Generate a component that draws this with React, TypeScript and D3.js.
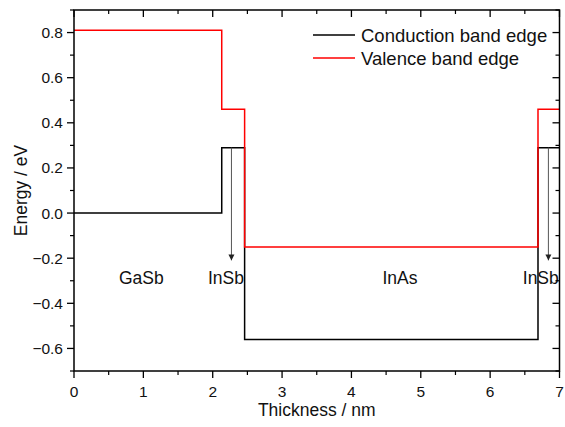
import React from "react";
import * as d3 from "d3";

// Band edge profiles across the GaSb / InSb / InAs / InSb stack
const layerBoundaries = [0, 2.13, 2.46, 6.69, 7];
const conductionEdge = [0, 0.29, -0.56, 0.29];
const valenceEdge = [0.81, 0.46, -0.15, 0.46];

const xTicks = [0, 1, 2, 3, 4, 5, 6, 7];
const yTicks = [-0.6, -0.4, -0.2, 0.0, 0.2, 0.4, 0.6, 0.8];
const xMinorTicks = [0.5, 1.5, 2.5, 3.5, 4.5, 5.5, 6.5];
const yMinorTicks = [-0.7, -0.5, -0.3, -0.1, 0.1, 0.3, 0.5, 0.7, 0.9];

const layerLabels = ["GaSb", "InSb", "InAs", "InSb"];
const layerLabelX = [0.97, 2.19, 4.7, 6.73];
const layerLabelY = -0.315;

// Arrows marking the InSb layers
const arrowX = [2.27, 6.84];
const arrowFrom = 0.29;
const arrowTo = -0.21;

const legendNames = ["Conduction band edge", "Valence band edge"];
const legendColors = ["#000000", "#ff0000"];

const W = 565;
const H = 427;
const left = 74;
const right = 559.5;
const top = 10;
const bottom = 371;
const FONT = "Liberation Sans, Arial, sans-serif";

export default function App() {
  const x = d3.scaleLinear().domain([0, 7]).range([left, right]);
  const y = d3.scaleLinear().domain([-0.7, 0.9]).range([bottom, top]);

  const stepPoints = (vals: number[]) => {
    const pts: [number, number][] = [];
    vals.forEach((v, i) => {
      pts.push([layerBoundaries[i], v]);
      pts.push([layerBoundaries[i + 1], v]);
    });
    return pts;
  };

  const line = d3
    .line<[number, number]>()
    .x((d) => x(d[0]))
    .y((d) => y(d[1]));

  const fmt = d3.format(".1f");
  const major = 7;
  const minor = 4;

  return (
    <svg
      width={W}
      height={H}
      style={{ position: "absolute", left: 0, top: 0, background: "#fff" }}
      fontFamily={FONT}
    >
      <defs>
        <marker
          id="arrowHead"
          viewBox="0 0 10 10"
          refX="10"
          refY="5"
          markerWidth="6"
          markerHeight="8"
          markerUnits="userSpaceOnUse"
          orient="auto"
        >
          <path d="M0,0 L10,5 L0,10 Z" fill="#222" />
        </marker>
      </defs>

      {/* band edges */}
      <path d={line(stepPoints(conductionEdge)) || ""} fill="none" stroke="#000" strokeWidth={1.5} />
      <path d={line(stepPoints(valenceEdge)) || ""} fill="none" stroke="#ff0000" strokeWidth={1.5} />

      {/* arrows */}
      {arrowX.map((ax, i) => (
        <line
          key={i}
          x1={x(ax)}
          x2={x(ax)}
          y1={y(arrowFrom)}
          y2={y(arrowTo)}
          stroke="#555"
          strokeWidth={1}
          markerEnd="url(#arrowHead)"
        />
      ))}

      {/* layer labels */}
      {layerLabels.map((t, i) => (
        <text
          key={i}
          x={x(layerLabelX[i])}
          y={y(layerLabelY)}
          textAnchor="middle"
          fontSize={17.5}
          fill="#111"
        >
          {t}
        </text>
      ))}

      {/* frame */}
      <rect x={left} y={top} width={right - left} height={bottom - top} fill="none" stroke="#000" strokeWidth={1.5} />

      {/* bottom axis: outward ticks; top axis: inward ticks */}
      {xTicks.map((t) => (
        <g key={"xb" + t}>
          <line x1={x(t)} x2={x(t)} y1={bottom} y2={bottom + major} stroke="#000" strokeWidth={1.3} />
          <text x={x(t)} y={bottom + 26} textAnchor="middle" fontSize={15.5} fill="#111">
            {t}
          </text>
          <line x1={x(t)} x2={x(t)} y1={top} y2={top + major} stroke="#000" strokeWidth={1.3} />
        </g>
      ))}
      {xMinorTicks.map((t) => (
        <g key={"xm" + t}>
          <line x1={x(t)} x2={x(t)} y1={bottom} y2={bottom + minor} stroke="#000" strokeWidth={1.2} />
          <line x1={x(t)} x2={x(t)} y1={top} y2={top + minor} stroke="#000" strokeWidth={1.2} />
        </g>
      ))}

      {/* left axis: outward ticks; right axis: inward ticks */}
      {yTicks.map((t) => (
        <g key={"yl" + t}>
          <line x1={left - major} x2={left} y1={y(t)} y2={y(t)} stroke="#000" strokeWidth={1.3} />
          <text x={left - 11} y={y(t) + 5.5} textAnchor="end" fontSize={15.5} fill="#111">
            {fmt(t)}
          </text>
          <line x1={right - major} x2={right} y1={y(t)} y2={y(t)} stroke="#000" strokeWidth={1.3} />
        </g>
      ))}
      {yMinorTicks.map((t) => (
        <g key={"ym" + t}>
          <line x1={left - minor} x2={left} y1={y(t)} y2={y(t)} stroke="#000" strokeWidth={1.2} />
          <line x1={right - minor} x2={right} y1={y(t)} y2={y(t)} stroke="#000" strokeWidth={1.2} />
        </g>
      ))}

      {/* axis titles */}
      <text x={(left + right) / 2} y={416} textAnchor="middle" fontSize={17.5} fill="#111">
        Thickness / nm
      </text>
      <text
        transform={`translate(27, ${(top + bottom) / 2}) rotate(-90)`}
        textAnchor="middle"
        fontSize={17.5}
        fill="#111"
      >
        Energy / eV
      </text>

      {/* legend */}
      {legendNames.map((n, i) => (
        <g key={n} transform={`translate(313, ${35 + i * 23})`}>
          <line x1={0} x2={42} y1={0} y2={0} stroke={legendColors[i]} strokeWidth={1.5} />
          <text x={48} y={6.5} fontSize={18.5} fill="#111">
            {n}
          </text>
        </g>
      ))}
    </svg>
  );
}
